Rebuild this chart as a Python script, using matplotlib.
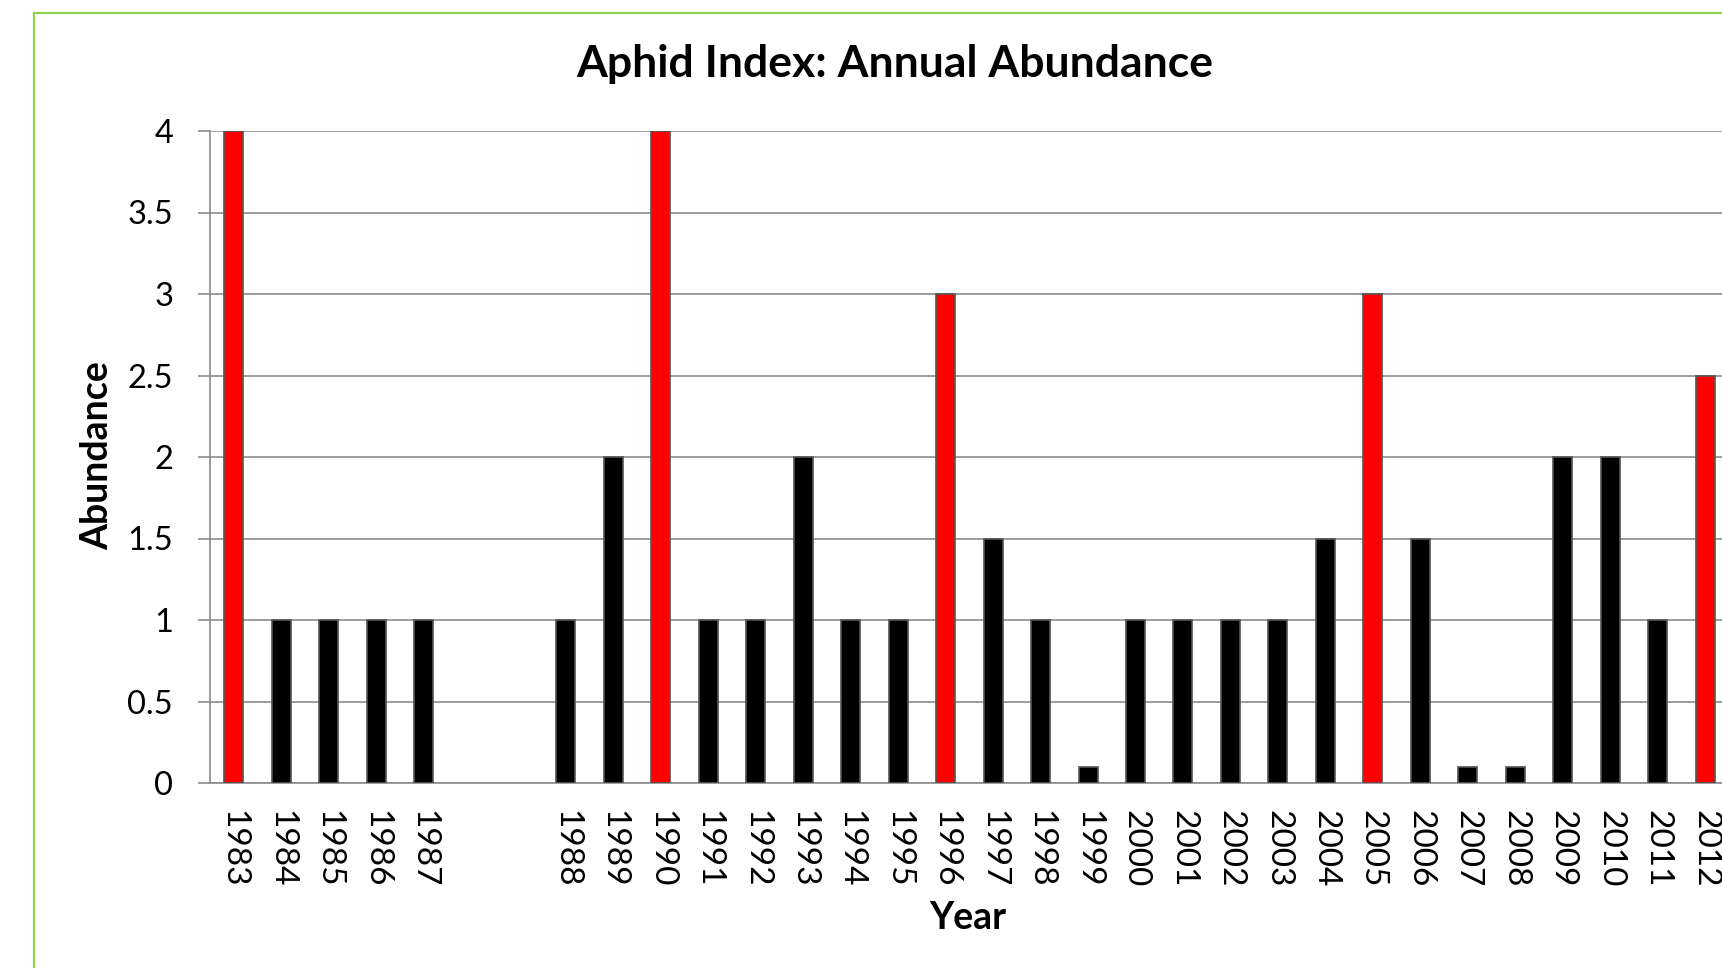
import numpy as np
import matplotlib
matplotlib.use("Agg")
import matplotlib.pyplot as plt
from matplotlib.patches import Rectangle

plt.rcParams["font.family"] = ["Lato", "DejaVu Sans"]

# two blank category slots sit between 1987 and 1988 in the original
year_labels = ["1983", "1984", "1985", "1986", "1987", "", "",
               "1988", "1989", "1990", "1991", "1992", "1993", "1994", "1995",
               "1996", "1997", "1998", "1999", "2000", "2001", "2002", "2003",
               "2004", "2005", "2006", "2007", "2008", "2009", "2010", "2011",
               "2012"]
abundance = [4, 1, 1, 1, 1, np.nan, np.nan,
             1, 2, 4, 1, 1, 2, 1, 1,
             3, 1.5, 1, 0.1, 1, 1, 1, 1,
             1.5, 3, 1.5, 0.1, 0.1, 2, 2, 1,
             2.5]
peak_years = ["1983", "1990", "1996", "2005", "2012"]

W, H = 1722, 968
fig = plt.figure(figsize=(W / 100, H / 100), dpi=100)

# green chart-area frame (cropped at right and bottom in the source)
fig.add_artist(Rectangle((34 / W, -0.2), 2.0, 0.2 + (H - 13) / H,
                         transform=fig.transFigure, fill=False,
                         edgecolor="#92D050", linewidth=1.6))

x_left = 210
x_end = 233.5 + 31.5 * 47.47
ax = fig.add_axes([x_left / W, (H - 783) / H, (x_end - x_left) / W, (783 - 131) / H])

x = np.arange(len(year_labels))
colors = ["#FF0000" if y in peak_years else "#000000" for y in year_labels]
ax.bar(x, abundance, width=0.4, color=colors, edgecolor="#555555", linewidth=1.2, zorder=3)

ax.set_xlim(-0.5, len(year_labels) - 0.5)
ax.set_ylim(0, 4)
ax.set_yticks(np.arange(0, 4.01, 0.5))
ax.set_yticklabels(["0", "0.5", "1", "1.5", "2", "2.5", "3", "3.5", "4"])
ax.set_xticks(x)
ax.set_xticklabels(year_labels, rotation=270)

ax.grid(axis="y", color="#8c8c8c", linewidth=1.2, zorder=0)
for s in ["top", "right"]:
    ax.spines[s].set_visible(False)
for s in ["left", "bottom"]:
    ax.spines[s].set_color("#8c8c8c")
    ax.spines[s].set_linewidth(1.2)

ax.tick_params(axis="y", length=8.6, width=1.2, color="#8c8c8c", pad=18, labelsize=23.5)
ax.tick_params(axis="x", length=0, pad=19.5, labelsize=24)

fig.text(895 / W, 1 - 64 / H, "Aphid Index: Annual Abundance", ha="center", va="center",
         fontsize=32, fontweight="bold")
fig.text(97 / W, 1 - 456 / H, "Abundance", rotation=90, ha="center", va="center",
         fontsize=27, fontweight="bold")
fig.text(968 / W, 1 - 918 / H, "Year", ha="center", va="center",
         fontsize=27, fontweight="bold")

fig.savefig("out.png", dpi=100)
